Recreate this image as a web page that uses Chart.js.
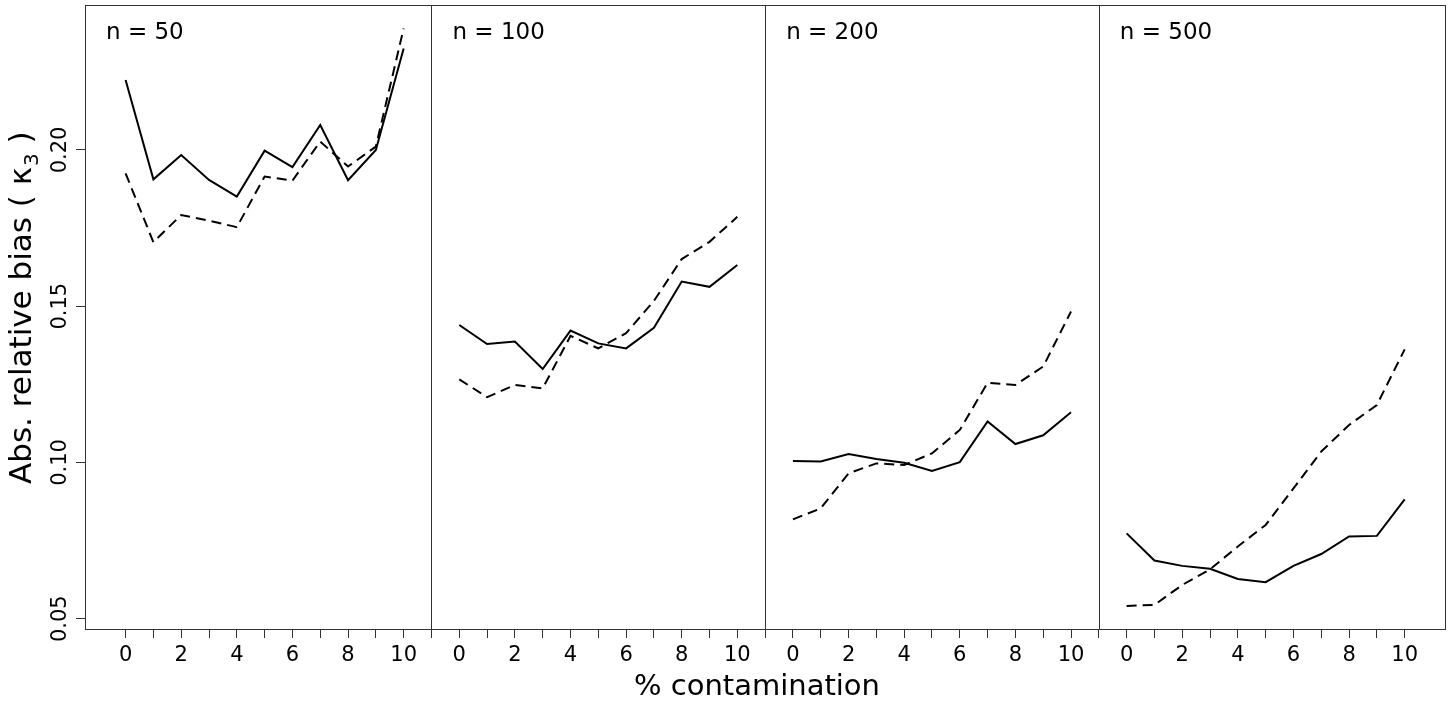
<!DOCTYPE html>
<html>
<head>
<meta charset="utf-8">
<title>Abs. relative bias</title>
<script src="https://cdn.jsdelivr.net/npm/chart.js@4.4.1/dist/chart.umd.min.js"></script>
<style>
  html, body { margin: 0; padding: 0; background: #fff; }
  #wrap { width: 1454px; height: 706px; }
</style>
</head>
<body>
<div id="wrap"><canvas id="graph" width="1454" height="706"></canvas></div>
<script>
// % contamination, same for every panel
const contamination = [0, 1, 2, 3, 4, 5, 6, 7, 8, 9, 10];
const panelLabels = ['n = 50', 'n = 100', 'n = 200', 'n = 500'];

// solid line per panel
const solid50 = [0.2224, 0.1906, 0.1984, 0.1904, 0.1851, 0.1998, 0.1945, 0.2080, 0.1903, 0.2000, 0.2325];
const solid100 = [0.1440, 0.1379, 0.1387, 0.1299, 0.1422, 0.1381, 0.1365, 0.1431, 0.1579, 0.1562, 0.1632];
const solid200 = [0.1005, 0.1003, 0.1027, 0.1011, 0.0999, 0.0973, 0.1001, 0.1131, 0.1059, 0.1087, 0.1161];
const solid500 = [0.0773, 0.0686, 0.0669, 0.0660, 0.0627, 0.0617, 0.0669, 0.0707, 0.0763, 0.0765, 0.0882];

// dashed line per panel
const dashed50 = [0.1925, 0.1705, 0.1792, 0.1774, 0.1753, 0.1915, 0.1902, 0.2027, 0.1947, 0.2011, 0.2389];
const dashed100 = [0.1266, 0.1209, 0.1248, 0.1237, 0.1405, 0.1365, 0.1414, 0.1517, 0.1651, 0.1706, 0.1786];
const dashed200 = [0.0818, 0.0853, 0.0965, 0.0997, 0.0992, 0.1029, 0.1104, 0.1255, 0.1248, 0.1307, 0.1483];
const dashed500 = [0.0541, 0.0544, 0.0608, 0.0658, 0.0731, 0.0800, 0.0917, 0.1035, 0.1120, 0.1184, 0.1362];

// tick labels
const xTickLabels = ['0', '', '2', '', '4', '', '6', '', '8', '', '10'];
const yTickValues = [0.05, 0.10, 0.15, 0.20];
const yTickLabels = ['0.05', '0.10', '0.15', '0.20'];

// panels sit side by side on one x scale, 12 units apart
const panelStep = 12;
const xMin = -1.46, xMax = 47.45;
const dividers = [11, 23, 35];

const solidSeries = [solid50, solid100, solid200, solid500];
const dashedSeries = [dashed50, dashed100, dashed200, dashed500];

const datasets = [];
panelLabels.forEach((lab, k) => {
    datasets.push({
        label: lab + ' solid',
        data: contamination.map((c, i) => ({ x: k * panelStep + c, y: solidSeries[k][i] })),
        borderColor: '#000',
        borderWidth: 2,
        pointRadius: 0,
        fill: false
    });
    datasets.push({
        label: lab + ' dashed',
        data: contamination.map((c, i) => ({ x: k * panelStep + c, y: dashedSeries[k][i] })),
        borderColor: '#000',
        borderWidth: 2,
        borderDash: [10, 6],
        pointRadius: 0,
        fill: false
    });
});

// tick positions: every contamination level in each panel plus the dividers
const xTickValues = [];
panelLabels.forEach((lab, k) => contamination.forEach(c => xTickValues.push(k * panelStep + c)));
dividers.forEach(d => xTickValues.push(d));
xTickValues.sort((a, b) => a - b);

const font = 'DejaVu Sans';
Chart.defaults.font.family = font;
Chart.defaults.color = '#000';

// box, dividers, panel labels, rotated y labels and axis titles
const panelDecor = {
    id: 'panelDecor',
    afterDraw(chart) {
        const { ctx, chartArea: a, scales: { x, y } } = chart;
        ctx.save();
        ctx.strokeStyle = '#333';
        ctx.lineWidth = 1;
        dividers.forEach(d => {
            const px = Math.round(x.getPixelForValue(d)) + 0.5;
            ctx.beginPath();
            ctx.moveTo(px, a.top);
            ctx.lineTo(px, a.bottom);
            ctx.stroke();
        });
        ctx.strokeRect(Math.round(a.left) + 0.5, Math.round(a.top) + 0.5,
            Math.round(a.right - a.left), Math.round(a.bottom - a.top));

        ctx.fillStyle = '#000';
        ctx.font = '23px ' + font;
        ctx.textAlign = 'left';
        ctx.textBaseline = 'alphabetic';
        const lefts = [xMin].concat(dividers);
        panelLabels.forEach((lab, k) => {
            ctx.fillText(lab, x.getPixelForValue(lefts[k]) + 21, 39);
        });

        // y tick labels, rotated like R's default
        ctx.font = '21px ' + font;
        ctx.textAlign = 'center';
        yTickValues.forEach((v, i) => {
            ctx.save();
            ctx.translate(66, y.getPixelForValue(v));
            ctx.rotate(-Math.PI / 2);
            ctx.fillText(yTickLabels[i], 0, 0);
            ctx.restore();
        });

        // y title with subscript, read bottom to top from y = 484
        const main1 = 'Abs. relative bias ( \u03BA';
        const sub = '3';
        const main2 = ' )';
        ctx.save();
        ctx.translate(31, 484);
        ctx.rotate(-Math.PI / 2);
        ctx.textAlign = 'left';
        ctx.font = '31px ' + font;
        const w1 = ctx.measureText(main1).width;
        ctx.fillText(main1, 0, 0);
        ctx.font = '20px ' + font;
        const w2 = ctx.measureText(sub).width;
        ctx.fillText(sub, w1 + 1, 7);
        ctx.font = '31px ' + font;
        ctx.fillText(main2, w1 + w2 + 1, 0);
        ctx.restore();

        // x title
        ctx.font = '29px ' + font;
        ctx.textAlign = 'center';
        ctx.fillText('% contamination', 757, 695);
        ctx.restore();
    }
};

const ctx = document.getElementById('graph').getContext('2d');
new Chart(ctx, {
    type: 'line',
    data: { datasets: datasets },
    options: {
        responsive: false,
        animation: false,
        devicePixelRatio: 1,
        layout: { padding: { top: 5, right: 9, left: 0, bottom: 0 } },
        plugins: {
            legend: { display: false },
            tooltip: { enabled: false }
        },
        elements: { line: { tension: 0 } },
        scales: {
            x: {
                type: 'linear',
                min: xMin,
                max: xMax,
                afterBuildTicks: scale => {
                    scale.ticks = xTickValues.map(v => ({ value: v }));
                },
                afterFit: scale => { scale.height = 77; },
                ticks: {
                    autoSkip: false,
                    maxRotation: 0,
                    padding: 5,
                    font: { size: 21 },
                    color: '#000',
                    callback: value => {
                        const k = Math.floor((value + 0.5) / panelStep);
                        const c = Math.round(value - k * panelStep);
                        return c <= 10 ? xTickLabels[c] : '';
                    }
                },
                grid: { drawOnChartArea: false, drawTicks: true, tickLength: 9, color: '#333' },
                border: { display: false }
            },
            y: {
                type: 'linear',
                min: 0.0467,
                max: 0.2464,
                afterBuildTicks: scale => {
                    scale.ticks = yTickValues.map(v => ({ value: v }));
                },
                afterFit: scale => { scale.width = 85; },
                ticks: { display: false },
                grid: { drawOnChartArea: false, drawTicks: true, tickLength: 9, color: '#333' },
                border: { display: false }
            }
        }
    },
    plugins: [panelDecor]
});
</script>
</body>
</html>
